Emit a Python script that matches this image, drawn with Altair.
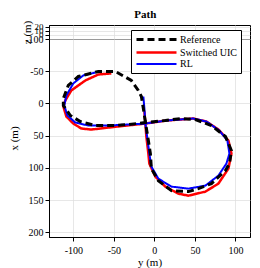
import altair as alt
import pandas as pd

# ---- data ----
series_names = ["Reference", "Switched UIC", "RL"]
series_colors = ["black", "red", "blue"]
series_dashes = [[7, 4], [1, 0], [1, 0]]
series_widths = [3, 2, 2]

ref_y = [-11, -13.6, -16, -19.8, -28.4, -48.1, -69.1, -93.8, -106.2, -112.3, -112.3, -103.7,
         -91.4, -72.8, -48.1, -32.1, -11, 13.6, 33.3, 50.6, 70.4, 87.7, 95.1, 92.6, 87.7,
         70.4, 54.3, 42, 21, 4.9, -3.7, -4.9, -7.4, -11]
ref_x = [29.5, 7.8, -10.9, -20.2, -35.7, -49.7, -49.7, -41.9, -28, -7.8, 3.1, 18.6,
         28, 34.2, 34.2, 32.6, 29.5, 26.4, 23.3, 24.8, 34.2, 51.2, 73, 93.2, 104,
         124.2, 132, 136.6, 135.1, 119.6, 100.9, 77.6, 57.5, 29.5]

uic_y = [-12.3, -11.1, -9.9, -7.4, -6.2, 1.2, 13.6, 29.6, 42, 63, 79, 91.4, 95.1, 91.4,
         79, 64.2, 48.1, 14.8, -11.1, -56.8, -77.8, -90.1, -100, -108.6, -112.3, -109.9,
         -102.5, -85.2, -69.1, -53.1]
uic_x = [12.4, 31.1, 51.2, 77.6, 93.2, 113.4, 128.9, 139.8, 142.9, 136.6, 124.2, 100.9,
         77.6, 57.5, 40.4, 28, 23.3, 26.4, 31.1, 37.3, 40.4, 38.8, 31.1, 20.2, 4.7, -4.7,
         -20.2, -35.7, -45, -46.6]

rl_y = [-13.6, -12.3, -11.1, -8.6, -6.2, -3.7, 4.9, 21, 42, 63, 79, 88.9, 92.6, 90.1,
        80.2, 64.2, 48.1, 14.8, -11.1, -56.8, -81.5, -97.5, -107.4, -111.1, -108.6, -100,
        -87.7, -72.8]
rl_x = [-10.9, 7.8, 31.1, 54.3, 77.6, 97.8, 116.5, 128.9, 132, 127.3, 111.8, 93.2, 77.6,
        57.5, 41.9, 28, 23.3, 26.4, 31.1, 34.2, 34.2, 29.5, 18.6, 3.1, -12.4, -31.1,
        -43.5, -48.1]

y_ticks = [-100, -50, 0, 50, 100]
x_ticks = [-100, -50, 0, 50, 100, 150, 200]
z_ticks = [0, 10, 20]

rows = []
for name, ys, xs in [("Switched UIC", uic_y, uic_x), ("RL", rl_y, rl_x), ("Reference", ref_y, ref_x)]:
    for i, (a, b) in enumerate(zip(ys, xs)):
        rows.append({"series": name, "i": i, "y": a, "x": b})
df = pd.DataFrame(rows)
zdf = pd.DataFrame({"z": z_ticks, "y": [0] * len(z_ticks)})

FONT = "Times New Roman, Liberation Serif, serif"
W, H = 201, 198
hdomain = [-130, 118]

leg = alt.Legend(
    title=None, orient="none", legendX=82, legendY=5,
    fillColor="white", strokeColor="black", padding=4, cornerRadius=0,
    symbolType="M-1,0H9", symbolSize=64, labelOffset=34, rowPadding=1,
    labelFont=FONT, labelFontSize=10, labelColor="black",
)

main = alt.Chart(df).mark_line(clip=True).encode(
    x=alt.X("y:Q", scale=alt.Scale(domain=hdomain, nice=False, zero=False),
            axis=alt.Axis(title="y (m)", values=y_ticks, labelExpr="'' + datum.value",
                          labelPadding=4, titlePadding=1)),
    y=alt.Y("x:Q", scale=alt.Scale(domain=[-100, 207], reverse=True, nice=False, zero=False),
            axis=alt.Axis(title="x (m)", values=x_ticks, labelExpr="'' + datum.value",
                          titlePadding=5)),
    color=alt.Color("series:N", scale=alt.Scale(domain=series_names, range=series_colors), legend=leg),
    strokeDash=alt.StrokeDash("series:N", scale=alt.Scale(domain=series_names, range=series_dashes), legend=leg),
    strokeWidth=alt.StrokeWidth("series:N", scale=alt.Scale(domain=series_names, range=series_widths), legend=leg),
    order="i:Q",
).properties(width=W, height=H)

strip = alt.Chart(zdf).mark_point(opacity=0).encode(
    x=alt.X("y:Q", scale=alt.Scale(domain=hdomain, nice=False, zero=False),
            axis=alt.Axis(title=None, labels=False, ticks=False, domain=False, values=y_ticks,
                          minExtent=0, maxExtent=0, offset=0, labelPadding=0)),
    y=alt.Y("z:Q", scale=alt.Scale(domain=[-10, 24], nice=False, zero=False),
            axis=alt.Axis(title="z (m)", values=z_ticks, labelOverlap=False, labelFontSize=9,
                          titlePadding=2)),
).properties(width=W, height=14)

chart = alt.vconcat(strip, main, spacing=0, bounds="flush").properties(
    title=alt.Title("Path", font=FONT, fontSize=11, fontWeight="bold", anchor="middle",
                    offset=0, dx=16),
    padding={"left": 0, "top": 0, "right": 0, "bottom": 0},
).configure(
    font=FONT
).configure_view(
    stroke="black", strokeWidth=1
).configure_axis(
    labelFont=FONT, titleFont=FONT, labelFontSize=10, titleFontSize=11,
    titleFontWeight="normal", labelColor="black", titleColor="black",
    domainColor="black", tickColor="black", tickSize=4,
    gridColor="#dddddd", gridWidth=0.7,
)

chart.save("out.html", embed_options={"renderer": "svg", "actions": False})
